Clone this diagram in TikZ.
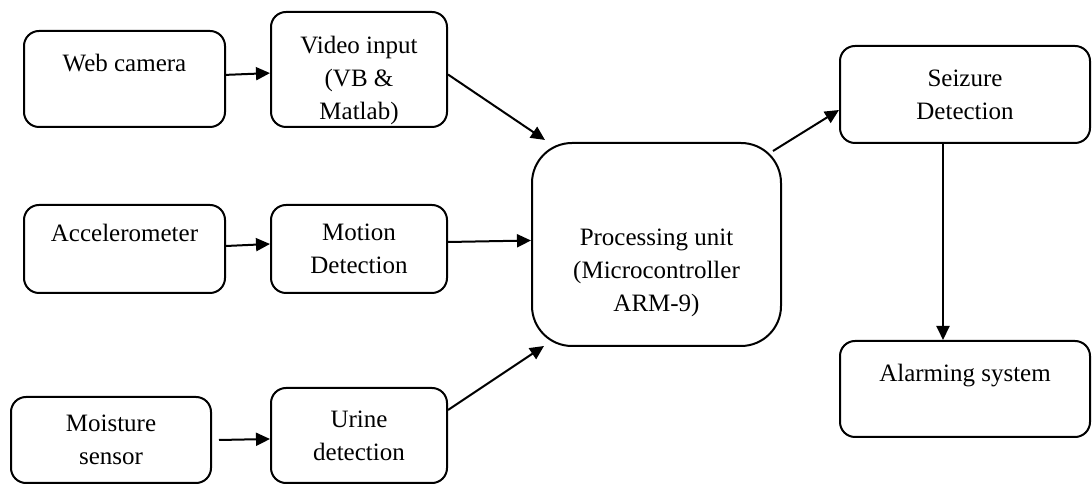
\documentclass[tikz,border=0pt]{standalone}
\usepackage{fontspec}
\setmainfont{Liberation Serif}
\usepackage{tikz}
\usetikzlibrary{arrows.meta}

\tikzset{
  block/.style={draw, line width=1pt, rounded corners=7.5pt, align=center, inner sep=0pt,
    font=\fontsize{12.5}{16.5}\selectfont},
  arrow/.style={line width=1pt, -{Triangle[length=7pt, width=6.5pt]}}
}

\begin{document}
\begin{tikzpicture}[x=0.5pt, y=-0.5pt]
\useasboundingbox (0,0) rectangle (1092,485);
% inputs
\node[block, minimum width=100.5pt, minimum height=48pt] (cam) at (124.5,79) {Web camera\\\mbox{}};
\node[block, minimum width=88pt, minimum height=57.5pt] (vid) at (359,69.5) {\mbox{}\\[3pt]Video input\\(VB \&\\Matlab)};
\node[block, minimum width=100.5pt, minimum height=44pt] (acc) at (124.5,249) {Accelerometer\\\mbox{}};
\node[block, minimum width=88pt, minimum height=44pt] (mot) at (359,249) {Motion\\Detection};
\node[block, minimum width=100pt, minimum height=43pt] (moi) at (111,440) {Moisture\\sensor};
\node[block, minimum width=88pt, minimum height=47.5pt] (uri) at (359,435.5) {Urine\\detection};
% processing unit
\node[block, rounded corners=20pt, minimum width=124.5pt, minimum height=101.5pt] (pu) at (656.5,244.5)
  {\mbox{}\\[20pt]Processing unit\\(Microcontroller\\ARM-9)};
% outputs
\node[block, minimum width=125pt, minimum height=48.5pt] (sz) at (965,94.5) {Seizure\\Detection};
\node[block, minimum width=125pt, minimum height=48pt] (alm) at (965,389) {Alarming system\\\mbox{}};
% connections
\draw[arrow] (cam) -- (vid);
\draw[arrow] ([yshift=-2.5pt]vid.east) -- ([xshift=7pt,yshift=1pt]pu.north west);
\draw[arrow] ([yshift=1.5pt]acc.east) -- ([yshift=2.5pt]mot.west);
\draw[arrow] ([yshift=3.5pt]mot.east) -- ([yshift=2pt]pu.west);
\draw[arrow] ([xshift=3.5pt]moi.east) -- ([yshift=-1.75pt]uri.west);
\draw[arrow] ([yshift=12.75pt]uri.east) -- ([xshift=6.5pt,yshift=0.5pt]pu.south west);
\draw[arrow] ([xshift=-4.5pt,yshift=-4.5pt]pu.north east) -- ([yshift=-7.75pt]sz.west);
\draw[arrow] ([xshift=-11pt]sz.south) -- ([xshift=-11pt]alm.north);
\end{tikzpicture}
\end{document}
